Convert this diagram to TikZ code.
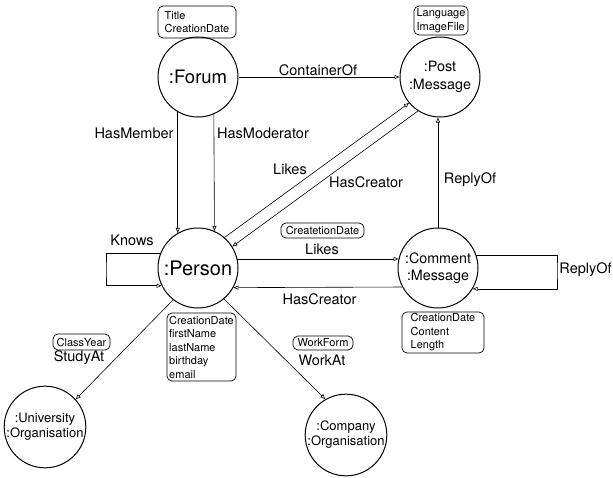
\documentclass[tikz,border=0pt]{standalone}
\usepackage{fontspec}
\setmainfont{TeX Gyre Heros}
\usetikzlibrary{arrows.meta}
\begin{document}
\begin{tikzpicture}[x=1pt,y=-1pt,
 ent/.style={circle, draw, line width=1pt, minimum size=80pt, inner sep=0pt, align=center},
 attr/.style={draw, line width=0.7pt, rounded corners=5pt, align=left, inner sep=1.5pt, font=\fontsize{11}{13.5}\selectfont},
 lbl/.style={inner sep=0pt, font=\fontsize{14.5}{16}\selectfont},
 rel/.style={draw, line width=0.6pt, -{Triangle[open,length=5pt,width=4pt]}}]
\useasboundingbox (0,0) rectangle (613,477);

% entities
\node[ent, font=\fontsize{18.5}{20}\selectfont] (forum) at (198,77) {:Forum};
\node[ent, font=\fontsize{14.3}{18}\selectfont] (post) at (440,77) {:Post\\:Message};
\node[ent, font=\fontsize{20}{22}\selectfont] (person) at (198,268) {:Person};
\node[ent, font=\fontsize{14.3}{17}\selectfont] (comment) at (438,268) {:Comment\\:Message};
\node[ent, font=\fontsize{13}{15}\selectfont] (uni) at (45,427) {:University\\:Organisation};
\node[ent, font=\fontsize{13}{15}\selectfont] (company) at (346,435) {:Company\\:Organisation};

% attribute boxes
\node[attr, minimum width=78pt, minimum height=32pt] (forumattr) at (197,22) {Title\\CreationDate};
\node[attr, minimum width=54pt, minimum height=29pt] (postattr) at (441,20.5) {Language\\ImageFile};
\node[attr, minimum width=83pt, minimum height=15pt] (likeattr) at (322.5,230.5) {CreatetionDate};
\node[attr, minimum width=69pt, minimum height=68pt] (personattr) at (201.5,347) {CreationDate\\firstName\\lastName\\birthday\\email};
\node[attr, minimum width=82pt, minimum height=41pt] (commentattr) at (443,332.5) {CreationDate\\Content\\Length};
\node[attr, minimum width=57pt, minimum height=16pt] (classattr) at (81.5,342) {ClassYear};
\node[attr, minimum width=60pt, minimum height=14pt] (workattr) at (323,343) {WorkForm};

% edges
\draw[rel] (forum.0) -- (post.180);
\draw[rel] (forum.240) -- (person.120);
\draw[rel] (forum.293.6) -- (person.66.4);
\draw[rel] (person.49) -- (post.220);
\draw[rel] (post.237) -- (person.32);
\draw[rel] (comment.north) -- (comment.north |- post.south);
\draw[rel] (person.13) -- (comment.167);
\draw[rel] (comment.208.4) -- (person.331.6);
\coordinate (kl) at (106,270);
\draw[rel] (person.159.5) -| (kl) |- (person.206.7);
\coordinate (rr) at (557,270);
\draw[rel] (comment.19.5) -| (rr) |- (comment.329.1);
\draw[rel] (person.232) -- (uni.42);
\draw[rel] (person.310.5) -- (company.120);

% labels
\node[lbl] (lcont) at (318,70) {ContainerOf};
\node[lbl] (lmem) at (134,133) {HasMember};
\node[lbl] (lmod) at (263,133) {HasModerator};
\node[lbl] (llikes1) at (290,169) {Likes};
\node[lbl] (lcre1) at (366,182) {HasCreator};
\node[lbl] (lrep1) at (470,180) {ReplyOf};
\node[lbl] (lknows) at (132,240) {Knows};
\node[lbl] (llikes2) at (322,249) {Likes};
\node[lbl] (lcre2) at (319.5,299) {HasCreator};
\node[lbl] (lrep2) at (585.5,270) {ReplyOf};
\node[lbl] (lstudy) at (79,358) {StudyAt};
\node[lbl] (lwork) at (322,360) {WorkAt};
\end{tikzpicture}
\end{document}
